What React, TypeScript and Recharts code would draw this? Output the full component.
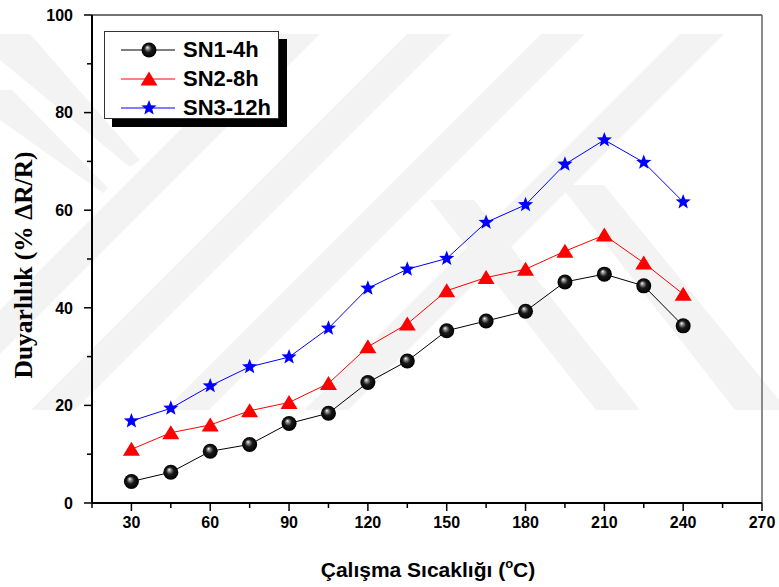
import React from "react";
import {
  LineChart,
  Line,
  XAxis,
  YAxis,
  Legend,
  ReferenceLine,
} from "recharts";

// Operating temperature (°C)
const TEMPS = [30, 45, 60, 75, 90, 105, 120, 135, 150, 165, 180, 195, 210, 225, 240];

// Sensitivity (% ΔR/R)
const SN1 = [4.4, 6.3, 10.6, 12.0, 16.3, 18.4, 24.7, 29.1, 35.3, 37.3, 39.3, 45.3, 46.9, 44.5, 36.3];
const SN2 = [11.0, 14.4, 16.0, 18.9, 20.6, 24.5, 32.0, 36.7, 43.5, 46.2, 47.9, 51.6, 54.9, 49.2, 42.8];
const SN3 = [16.8, 19.4, 24.0, 27.9, 29.9, 35.8, 44.0, 47.9, 50.1, 57.5, 61.1, 69.4, 74.4, 69.8, 61.7];

const X_TICKS = [15, 30, 45, 60, 75, 90, 105, 120, 135, 150, 165, 180, 195, 210, 225, 240, 255, 270];
const Y_TICKS = [0, 10, 20, 30, 40, 50, 60, 70, 80, 90, 100];

const SERIES = [
  { key: "sn1", name: "SN1-4h", color: "#000000", marker: "ball" },
  { key: "sn2", name: "SN2-8h", color: "#ff0000", marker: "triangle" },
  { key: "sn3", name: "SN3-12h", color: "#0000ff", marker: "star" },
];

const data = TEMPS.map((t, i) => ({ t, sn1: SN1[i], sn2: SN2[i], sn3: SN3[i] }));

const SANS = "'Liberation Sans', Arial, sans-serif";
const SERIF = "'Liberation Serif', 'Times New Roman', serif";

// faint thesis watermark in the background (decoration only)
const WATERMARK = [
  "276,34 320,34 -56,410 -100,410",
  "407,34 451,34 75,410 31,410",
  "541,34 585,34 209,410 165,410",
  "680,34 724,34 348,410 304,410",
  "430,200 474,200 640,410 596,410",
  "560,185 604,185 779,400 779,410 735,410",
  "0,34 30,34 140,160 130,167 0,60",
  "0,90 12,90 108,188 103,193 0,120",
];

function starPoints(cx: number, cy: number, outer: number, inner: number): string {
  const pts: string[] = [];
  for (let i = 0; i < 10; i++) {
    const r = i % 2 === 0 ? outer : inner;
    const a = -Math.PI / 2 + (i * Math.PI) / 5;
    pts.push(`${cx + r * Math.cos(a)},${cy + r * Math.sin(a)}`);
  }
  return pts.join(" ");
}

function Marker({ kind, cx, cy }: { kind: string; cx: number; cy: number }) {
  if (kind === "ball") {
    return (
      <g>
        <defs>
          <radialGradient id="ballGrad" cx="0.5" cy="0.5" r="0.5" fx="0.38" fy="0.32">
            <stop offset="0" stopColor="#ffffff" />
            <stop offset="0.18" stopColor="#999999" />
            <stop offset="0.5" stopColor="#1a1a1a" />
            <stop offset="1" stopColor="#000000" />
          </radialGradient>
        </defs>
        <circle cx={cx} cy={cy} r={7.5} fill="url(#ballGrad)" />
      </g>
    );
  }
  if (kind === "triangle") {
    return (
      <polygon
        points={`${cx},${cy - 7.5} ${cx - 8.5},${cy + 6.5} ${cx + 8.5},${cy + 6.5}`}
        fill="#ff0000"
      />
    );
  }
  return <polygon points={starPoints(cx, cy, 8, 3.4)} fill="#0000ff" />;
}

const makeDot = (kind: string) => (props: any) => {
  const { cx, cy, index } = props;
  if (cx == null || cy == null) return <g key={index} />;
  return <Marker key={index} kind={kind} cx={cx} cy={cy} />;
};

const XTick = (props: any) => {
  const { x, y, payload } = props;
  const major = payload.value % 30 === 0;
  return (
    <g>
      <line x1={x} x2={x} y1={y} y2={y + (major ? 8 : 5)} stroke="#000" strokeWidth={1.5} />
      {major && payload.value !== 15 && (
        <text x={x} y={y + 25} textAnchor="middle" fontFamily={SANS} fontWeight="bold" fontSize={16} fill="#000">
          {payload.value}
        </text>
      )}
    </g>
  );
};

const YTick = (props: any) => {
  const { x, y, payload } = props;
  const major = payload.value % 20 === 0;
  return (
    <g>
      <line x1={x} x2={x - (major ? 8 : 5)} y1={y} y2={y} stroke="#000" strokeWidth={1.5} />
      {major && (
        <text x={x - 19} y={y} dy="0.36em" textAnchor="end" fontFamily={SANS} fontWeight="bold" fontSize={16} fill="#000">
          {payload.value}
        </text>
      )}
    </g>
  );
};

const LegendBox = () => (
  <div
    style={{
      background: "#fff",
      border: "1px solid #333",
      boxShadow: "8px 8px 0 #000",
      width: 175,
      height: 88,
      boxSizing: "border-box",
      paddingTop: 3,
    }}
  >
    {SERIES.map((s) => (
      <div key={s.key} style={{ display: "flex", alignItems: "center", height: 29 }}>
        <svg width={78} height={20} style={{ display: "block" }}>
          <line x1={16} x2={70} y1={10} y2={10} stroke={s.color} strokeWidth={1} />
          <Marker kind={s.marker} cx={44} cy={10} />
        </svg>
        <span style={{ fontFamily: SANS, fontWeight: "bold", fontSize: 22, color: "#000", lineHeight: "22px" }}>
          {s.name}
        </span>
      </div>
    ))}
  </div>
);

const xTitle = () => (
  <text x={428} y={577} textAnchor="middle" fontFamily={SANS} fontWeight="bold" fontSize={21} fill="#000">
    Çalışma Sıcaklığı (
    <tspan fontSize={13} dy={-9}>o</tspan>
    <tspan dy={9}>C)</tspan>
  </text>
);

const yTitle = () => (
  <text
    x={32}
    y={265}
    transform="rotate(-90 32 265)"
    textAnchor="middle"
    fontFamily={SERIF}
    fontWeight="bold"
    fontSize={25.5}
    fill="#000"
  >
    Duyarlılık (% ΔR/R)
  </text>
);

export default function App() {
  return (
    <div style={{ position: "absolute", left: 0, top: 0, width: 779, height: 587, background: "#fff" }}>
      <svg width={779} height={587} style={{ position: "absolute", left: 0, top: 0 }}>
        {WATERMARK.map((p, i) => (
          <polygon key={i} points={p} fill="#f3f3f3" />
        ))}
      </svg>
      <LineChart width={779} height={587} data={data} margin={{ top: 15, right: 17, bottom: 0, left: 0 }}>
        <XAxis
          dataKey="t"
          type="number"
          domain={[15, 270]}
          ticks={X_TICKS}
          interval={0}
          height={84}
          tickSize={0}
          tickMargin={0}
          tick={<XTick />}
          axisLine={{ stroke: "#000", strokeWidth: 2 }}
          label={xTitle}
        />
        <YAxis
          type="number"
          domain={[0, 100]}
          ticks={Y_TICKS}
          interval={0}
          width={92}
          tickSize={0}
          tickMargin={0}
          tick={<YTick />}
          axisLine={{ stroke: "#000", strokeWidth: 2 }}
          label={yTitle}
        />
        <ReferenceLine y={100} stroke="#444" strokeWidth={1.5} />
        <ReferenceLine x={270} stroke="#666" strokeWidth={1.5} />
        <Legend
          layout="horizontal"
          verticalAlign="middle"
          align="center"
          content={<LegendBox />}
          wrapperStyle={{ left: 104, top: 31, width: "auto", height: "auto" }}
        />
        {SERIES.map((s) => (
          <Line
            key={s.key}
            dataKey={s.key}
            name={s.name}
            stroke={s.color}
            strokeWidth={1}
            dot={makeDot(s.marker)}
            activeDot={false}
            isAnimationActive={false}
          />
        ))}
      </LineChart>
    </div>
  );
}
